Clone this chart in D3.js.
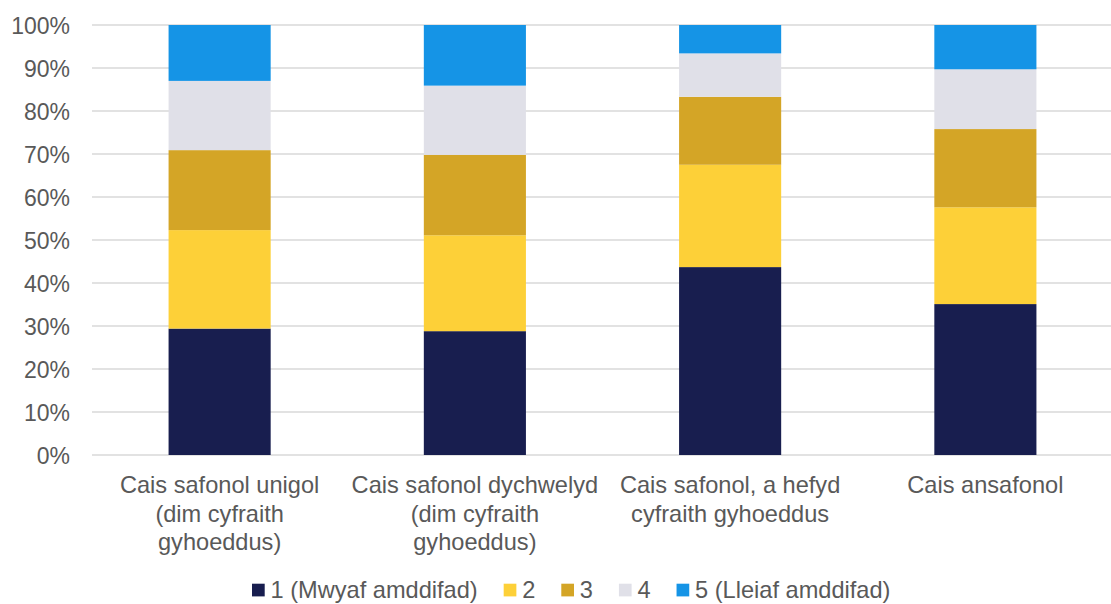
<!DOCTYPE html>
<html>
<head>
<meta charset="utf-8">
<script src="https://cdn.jsdelivr.net/npm/d3@7"></script>
<style>
  html, body { margin: 0; padding: 0; background: #ffffff; }
  svg { display: block; font-family: "Liberation Sans", Arial, sans-serif; }
</style>
</head>
<body>
<svg id="chart" width="1111" height="604"></svg>
<script>
// ---- data ----
const categories = [
  "Cais safonol unigol\n(dim cyfraith\ngyhoeddus)",
  "Cais safonol dychwelyd\n(dim cyfraith\ngyhoeddus)",
  "Cais safonol, a hefyd\ncyfraith gyhoeddus",
  "Cais ansafonol"
];
const seriesNames = ["1 (Mwyaf amddifad)", "2", "3", "4", "5 (Lleiaf amddifad)"];
const s1 = [29.4, 28.8, 43.7, 35.1];
const s2 = [22.9, 22.3, 23.8, 22.5];
const s3 = [18.6, 18.7, 15.8, 18.2];
const s4 = [16.1, 16.1, 10.1, 13.9];
const s5 = [13.0, 14.1, 6.6, 10.3];
const yTicks = [0, 10, 20, 30, 40, 50, 60, 70, 80, 90, 100];
const colors = ["#181e4f", "#fdd038", "#d4a526", "#e0e0e8", "#1594e6"];

// ---- build table ----
const seriesValues = [s1, s2, s3, s4, s5];
const table = categories.map((c, i) => {
  const row = { cat: c };
  seriesNames.forEach((s, j) => row[s] = seriesValues[j][i]);
  return row;
});
const stacked = d3.stack().keys(seriesNames)(table);

// ---- layout ----
const svg = d3.select("#chart");
const margin = { left: 92, right: -2, top: 25, bottom: 149 };
const W = 1111, H = 604;
const x = d3.scaleBand().domain(categories).range([margin.left, W - margin.right]).paddingInner(0.6).paddingOuter(0.3);
const y = d3.scaleLinear().domain([0, 100]).range([H - margin.bottom, margin.top]);
const textColor = "#595959";
const fontSize = 23;
const labelFont = 23.6;

// gridlines
svg.append("g").selectAll("line").data(yTicks).join("line")
  .attr("x1", margin.left).attr("x2", 1111)
  .attr("y1", d => y(d)).attr("y2", d => y(d))
  .attr("stroke", "#d9d9d9").attr("stroke-width", 1.4);

// y axis labels
const yAxis = d3.axisLeft(y).tickValues(yTicks).tickFormat(d => d + "%").tickSize(0).tickPadding(0);
const yg = svg.append("g").attr("transform", `translate(70,0)`).call(yAxis);
yg.select(".domain").remove();
yg.selectAll("text").attr("fill", textColor).style("font-size", fontSize + "px")
  .style("font-family", "'Liberation Sans', Arial, sans-serif").attr("dy", "0.35em");

// bars
svg.append("g").selectAll("g").data(stacked).join("g")
  .attr("fill", (d, i) => colors[i])
  .selectAll("rect").data(d => d).join("rect")
  .attr("x", d => x(d.data.cat))
  .attr("width", x.bandwidth())
  .attr("y", d => y(d[1]))
  .attr("height", d => y(d[0]) - y(d[1]));

// x axis labels
const xAxis = d3.axisBottom(x).tickSize(0).tickFormat("");
const xg = svg.append("g").attr("transform", `translate(0,${y(0)})`).call(xAxis);
xg.select(".domain").remove();
xg.selectAll(".tick").each(function(d) {
  const t = d3.select(this).append("text")
    .attr("text-anchor", "middle")
    .attr("fill", textColor)
    .style("font-size", labelFont + "px");
  d.split("\n").forEach((line, i) => {
    t.append("tspan").attr("x", 0).attr("y", 38 + i * 28.5).text(line);
  });
});

// legend
const lg = svg.append("g").attr("transform", "translate(252,590)");
let cx = 0;
seriesNames.forEach((s, i) => {
  const item = lg.append("g").attr("transform", `translate(${cx},0)`);
  item.append("rect").attr("x", 0).attr("y", -6.3).attr("width", 12.7).attr("height", 12.7).attr("fill", colors[i]);
  const t = item.append("text").attr("x", 18.5).attr("y", 0).attr("dy", "0.35em")
    .attr("fill", textColor).style("font-size", labelFont + "px").text(s);
  const w = t.node().getComputedTextLength();
  cx += 18.5 + w + 26;
});
</script>
</body>
</html>
